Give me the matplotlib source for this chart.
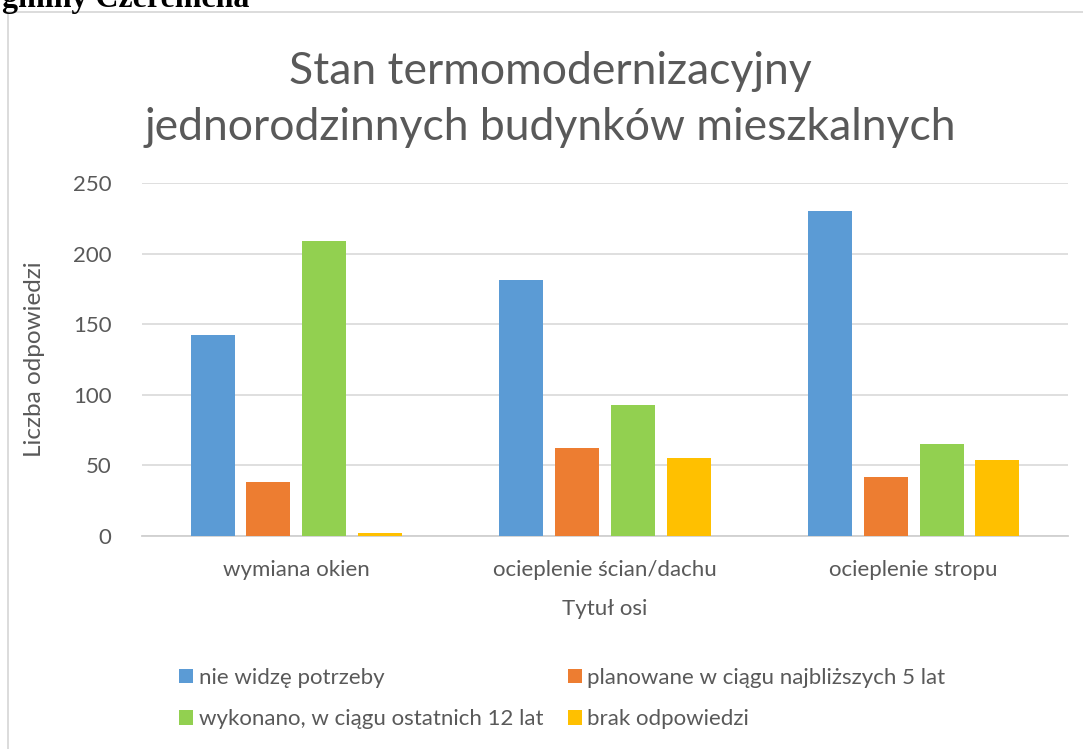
import matplotlib.pyplot as plt
from matplotlib.lines import Line2D
import numpy as np

plt.rcParams['font.family'] = ['Lato', 'DejaVu Sans']

categories = ['wymiana okien', 'ocieplenie ścian/dachu', 'ocieplenie stropu']
series = ['nie widzę potrzeby', 'planowane w ciągu najbliższych 5 lat',
          'wykonano, w ciągu ostatnich 12 lat', 'brak odpowiedzi']
nie_widze = [142, 181, 230]
planowane = [38, 62, 42]
wykonano = [209, 93, 65]
brak = [2, 55, 54]
colors = ['#5B9BD5', '#ED7D31', '#92D050', '#FFC000']
txt = '#595959'

fig = plt.figure(figsize=(10.83, 7.49), dpi=100)
ax = fig.add_axes([142/1083, 1-536/749, 926/1083, 353/749])

x = np.arange(len(categories))
w = 0.1425
pitch = 0.181
bars = []
for i, vals in enumerate([nie_widze, planowane, wykonano, brak]):
    b = ax.bar(x + (i - 1.5) * pitch, vals, w, color=colors[i], label=series[i], zorder=3)
    bars.append(b)

ax.set_xlim(-0.5, 2.5)
ax.set_ylim(0, 250)
ax.set_yticks(range(0, 251, 50))
ax.set_xticks(x)
ax.set_xticklabels(categories)
ax.grid(axis='y', color='#D9D9D9', linewidth=1.2, zorder=0)
for s in ['top', 'right', 'left']:
    ax.spines[s].set_visible(False)
ax.spines['bottom'].set_color('#D0D0D0')
ax.spines['bottom'].set_linewidth(1.3)
ax.tick_params(length=0, labelsize=16, colors=txt)
ax.tick_params(axis='x', pad=17)
ax.tick_params(axis='y', pad=22)
ax.set_xlabel('Tytuł osi', fontsize=16, color=txt, labelpad=14)
ax.set_ylabel('Liczba odpowiedzi', fontsize=17.5, color=txt, labelpad=20)

fig.text(550/1083, 1-71/749, 'Stan termomodernizacyjny', ha='center', va='center',
         fontsize=32, color=txt)
fig.text(550/1083, 1-127/749, 'jednorodzinnych budynków mieszkalnych', ha='center', va='center',
         fontsize=32, color=txt)

# text cut off above the chart frame
fig.text(2/1083, 1-7/749, 'gminy Czeremcha', ha='left', va='baseline', fontsize=23,
         fontweight='bold', family='Liberation Serif', color='black')

# chart frame
fig.add_artist(Line2D([8/1083, 8/1083], [0, 1-12/749], transform=fig.transFigure,
                      color='#D9D9D9', linewidth=1.3))
fig.add_artist(Line2D([8/1083, 1], [1-12/749, 1-12/749], transform=fig.transFigure,
                      color='#D9D9D9', linewidth=1.3))

handles = [bars[0], bars[2], bars[1], bars[3]]
labels = [series[0], series[2], series[1], series[3]]
fig.legend(handles, labels, ncol=2, loc='upper left', bbox_to_anchor=(179/1083, 1-668/749),
           frameon=False, fontsize=16, handlelength=0.63, handleheight=0.63,
           handletextpad=0.25, columnspacing=1.1, labelspacing=0.95, labelcolor=txt,
           borderpad=0, borderaxespad=0)

fig.savefig('out.png', dpi=100)
